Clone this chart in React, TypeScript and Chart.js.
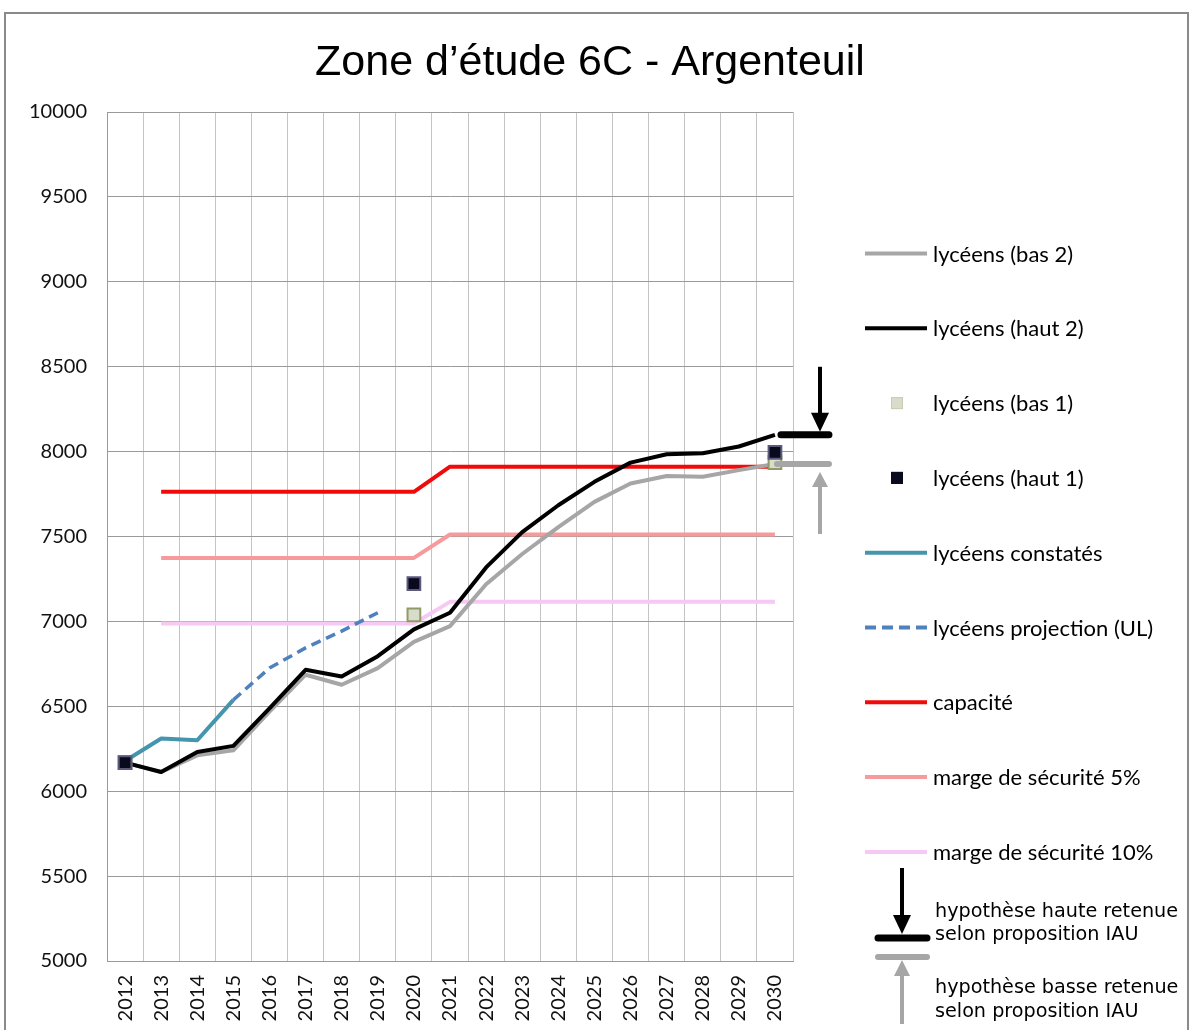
import React, { useEffect, useRef } from "react";
import { Chart, registerables } from "chart.js";

Chart.register(...registerables);

const TITLE = "Zone d\u2019étude 6C - Argenteuil";
const years = ["2012", "2013", "2014", "2015", "2016", "2017", "2018", "2019", "2020", "2021", "2022", "2023", "2024", "2025", "2026", "2027", "2028", "2029", "2030"];
const Y_MIN = 5000;
const Y_MAX = 10000;
const Y_STEP = 500;

const bas2 = [6168, 6113, 6211, 6241, 6468, 6686, 6627, 6725, 6879, 6972, 7219, 7397, 7555, 7704, 7812, 7856, 7852, 7891, 7927];
const haut2 = [6168, 6113, 6231, 6267, 6488, 6715, 6676, 6795, 6953, 7051, 7318, 7526, 7684, 7822, 7935, 7984, 7990, 8030, 8099];
const bas1 = [6168, null, null, null, null, null, null, null, 7038, null, null, null, null, null, null, null, null, null, 7935];
const haut1 = [6168, null, null, null, null, null, null, null, 7223, null, null, null, null, null, null, null, null, null, 7996];
const constates = [6178, 6310, 6300, 6538, null, null, null, null, null, null, null, null, null, null, null, null, null, null, null];
const projection = [null, null, null, 6538, 6725, 6844, 6943, 7051, null, null, null, null, null, null, null, null, null, null, null];
const capacite = [null, 7763, 7763, 7763, 7763, 7763, 7763, 7763, 7763, 7911, 7911, 7911, 7911, 7911, 7911, 7911, 7911, 7911, 7911];
const marge5 = [null, 7374, 7374, 7374, 7374, 7374, 7374, 7374, 7374, 7512, 7512, 7512, 7512, 7512, 7512, 7512, 7512, 7512, 7512];
const marge10 = [null, 6988, 6988, 6988, 6988, 6988, 6988, 6988, 6988, 7115, 7115, 7115, 7115, 7115, 7115, 7115, 7115, 7115, 7115];

const legendLabels = [
  "lycéens (bas 2)",
  "lycéens (haut 2)",
  "lycéens (bas 1)",
  "lycéens (haut 1)",
  "lycéens constatés",
  "lycéens projection (UL)",
  "capacité",
  "marge de sécurité 5%",
  "marge de sécurité 10%",
];
const hypHaute = ["hypothèse haute retenue", "selon proposition IAU"];
const hypBasse = ["hypothèse basse retenue", "selon proposition IAU"];

const C_GREY = "#a6a6a6";
const C_BLACK = "#000000";
const C_TEAL = "#4595ad";
const C_DASH = "#4f81bd";
const C_RED = "#f00a0a";
const C_PINK = "#f79a9c";
const C_LPINK = "#f6c8f4";
const C_BAS1_FILL = "#d8dccb";
const C_BAS1_BORDER = "#8f9a66";
const C_HAUT1_FILL = "#0a0a1e";
const C_HAUT1_BORDER = "#5c5a7c";

type LegendItem = { kind: "line" | "dash" | "square"; color: string; border?: string };
const legendStyles: LegendItem[] = [
  { kind: "line", color: C_GREY },
  { kind: "line", color: C_BLACK },
  { kind: "square", color: C_BAS1_FILL, border: "#c9ccb4" },
  { kind: "square", color: C_HAUT1_FILL, border: C_HAUT1_FILL },
  { kind: "line", color: C_TEAL },
  { kind: "dash", color: C_DASH },
  { kind: "line", color: C_RED },
  { kind: "line", color: C_PINK },
  { kind: "line", color: C_LPINK },
];

function arrow(ctx: CanvasRenderingContext2D, x: number, y0: number, yTip: number, color: string, headLen: number, headW: number, lw: number) {
  const dir = Math.sign(yTip - y0);
  ctx.strokeStyle = color;
  ctx.fillStyle = color;
  ctx.lineWidth = lw;
  ctx.lineCap = "butt";
  ctx.beginPath();
  ctx.moveTo(x, y0);
  ctx.lineTo(x, yTip - dir * headLen + dir);
  ctx.stroke();
  ctx.beginPath();
  ctx.moveTo(x - headW / 2, yTip - dir * headLen);
  ctx.lineTo(x + headW / 2, yTip - dir * headLen);
  ctx.lineTo(x, yTip);
  ctx.closePath();
  ctx.fill();
}

function bar(ctx: CanvasRenderingContext2D, x0: number, x1: number, y: number, color: string, lw: number) {
  ctx.strokeStyle = color;
  ctx.lineWidth = lw;
  ctx.lineCap = "round";
  ctx.beginPath();
  ctx.moveTo(x0, y);
  ctx.lineTo(x1, y);
  ctx.stroke();
}

const decor = {
  id: "decor",
  beforeDraw(chart: any) {
    const ctx: CanvasRenderingContext2D = chart.ctx;
    ctx.save();
    ctx.fillStyle = "#ffffff";
    ctx.fillRect(0, 0, chart.width, chart.height);
    ctx.strokeStyle = "#8a8a8a";
    ctx.lineWidth = 2;
    ctx.strokeRect(5, 13, 1183, 1100);
    ctx.restore();
  },
  afterDraw(chart: any) {
    const ctx: CanvasRenderingContext2D = chart.ctx;
    const ys = chart.scales.y;
    const xs = chart.scales.x;
    ctx.save();
    // title
    ctx.fillStyle = "#000";
    ctx.font = "43px 'Liberation Sans', Arial, sans-serif";
    ctx.textAlign = "center";
    ctx.textBaseline = "alphabetic";
    ctx.fillText(TITLE, 590, 75);

    // right side hypothesis markers on chart
    const last = years.length - 1;
    const xl = xs.getPixelForValue(last);
    const yH = ys.getPixelForValue(haut2[last]);
    const yB = ys.getPixelForValue(bas2[last]);
    bar(ctx, xl + 6, xl + 54, yH, C_BLACK, 7);
    bar(ctx, xl + 2, xl + 54, yB, C_GREY, 6);
    arrow(ctx, 820, yH - 68, yH - 3, C_BLACK, 19, 18, 4);
    arrow(ctx, 820, yB + 70, yB + 8, C_GREY, 15, 16, 4);

    // legend
    ctx.textAlign = "left";
    ctx.textBaseline = "middle";
    ctx.font = "22px Lato, 'Open Sans', sans-serif";
    legendLabels.forEach((label, i) => {
      const y = 253.5 + i * 74.8;
      const st = legendStyles[i];
      if (st.kind === "line" || st.kind === "dash") {
        ctx.strokeStyle = st.color;
        ctx.lineWidth = 4;
        ctx.lineCap = "butt";
        ctx.setLineDash(st.kind === "dash" ? [11, 6] : []);
        ctx.beginPath();
        ctx.moveTo(865, y);
        ctx.lineTo(927, y);
        ctx.stroke();
        ctx.setLineDash([]);
      } else {
        ctx.fillStyle = st.color;
        ctx.fillRect(891, y - 6, 12, 12);
        ctx.strokeStyle = st.border || st.color;
        ctx.lineWidth = 1;
        ctx.strokeRect(891.5, y - 5.5, 11, 11);
      }
      ctx.fillStyle = "#000";
      ctx.fillText(label, 933, y + 1);
    });

    // hypothesis legend
    arrow(ctx, 902, 868, 934, C_BLACK, 19, 18, 4);
    bar(ctx, 878, 927, 938, C_BLACK, 7);
    bar(ctx, 878, 927, 957, C_GREY, 6);
    arrow(ctx, 902, 1024, 960, C_GREY, 16, 16, 4);
    ctx.fillStyle = "#000";
    ctx.font = "19.2px 'DejaVu Sans', Verdana, sans-serif";
    ctx.fillText(hypHaute[0], 935, 912);
    ctx.fillText(hypHaute[1], 935, 935);
    ctx.fillText(hypBasse[0], 935, 988);
    ctx.fillText(hypBasse[1], 935, 1012);
    ctx.restore();
  },
};

export default function App() {
  const ref = useRef<HTMLCanvasElement | null>(null);
  useEffect(() => {
    if (!ref.current) return;
    const lineDs = (label: string, data: (number | null)[], color: string, width: number, order: number, extra: any = {}) => ({
      label,
      data,
      borderColor: color,
      backgroundColor: color,
      borderWidth: width,
      pointRadius: 0,
      pointHoverRadius: 0,
      tension: 0,
      spanGaps: false,
      order,
      borderJoinStyle: "round",
      ...extra,
    });
    const markerDs = (label: string, data: (number | null)[], fill: string, border: string, order: number) => ({
      label,
      data,
      showLine: false,
      pointStyle: "rect",
      pointRadius: 9,
      pointHoverRadius: 9,
      pointBackgroundColor: fill,
      pointBorderColor: border,
      pointBorderWidth: 2,
      backgroundColor: fill,
      borderColor: border,
      order,
    });
    const chart = new Chart(ref.current, {
      type: "line",
      data: {
        labels: years,
        datasets: [
          markerDs(legendLabels[3], haut1, C_HAUT1_FILL, C_HAUT1_BORDER, 0),
          markerDs(legendLabels[2], bas1, C_BAS1_FILL, C_BAS1_BORDER, 1),
          lineDs(legendLabels[1], haut2, C_BLACK, 4, 2),
          lineDs(legendLabels[0], bas2, C_GREY, 4, 3),
          lineDs(legendLabels[6], capacite, C_RED, 4, 4),
          lineDs(legendLabels[4], constates, C_TEAL, 4, 5),
          lineDs(legendLabels[5], projection, C_DASH, 3.5, 6, { borderDash: [10, 6], borderCapStyle: "butt" }),
          lineDs(legendLabels[7], marge5, C_PINK, 4, 7),
          lineDs(legendLabels[8], marge10, C_LPINK, 4, 8),
        ],
      } as any,
      options: {
        responsive: false,
        animation: false,
        events: [],
        layout: { padding: { left: 0, top: 112, right: 398, bottom: 0 } },
        plugins: {
          legend: { display: false },
          title: { display: false },
          tooltip: { enabled: false },
        },
        scales: {
          x: {
            type: "category",
            offset: true,
            grid: { color: "#c4c4c4", lineWidth: 1, drawTicks: false, offset: true },
            border: { color: "#9a9a9a", width: 1 },
            ticks: {
              minRotation: 90,
              maxRotation: 90,
              autoSkip: false,
              padding: 14,
              color: "#111",
              font: { family: "Lato, 'Open Sans', sans-serif", size: 20 },
            },
            afterFit: (s: any) => {
              s.height = 1030 - 961;
            },
          },
          y: {
            min: Y_MIN,
            max: Y_MAX,
            grid: { color: "#9a9a9a", lineWidth: 1, drawTicks: false },
            border: { color: "#9a9a9a", width: 1 },
            ticks: {
              stepSize: Y_STEP,
              padding: 20,
              color: "#111",
              font: { family: "Lato, 'Open Sans', sans-serif", size: 20 },
              callback: (v: any) => String(v),
            },
            afterFit: (s: any) => {
              s.width = 107;
            },
          },
        },
      } as any,
      plugins: [decor],
    });
    return () => chart.destroy();
  }, []);
  return (
    <div style={{ position: "fixed", left: 0, top: 0, width: 1191, height: 1030, background: "#fff" }}>
      <canvas ref={ref} width={1191} height={1030} style={{ display: "block", width: 1191, height: 1030 }} />
    </div>
  );
}
